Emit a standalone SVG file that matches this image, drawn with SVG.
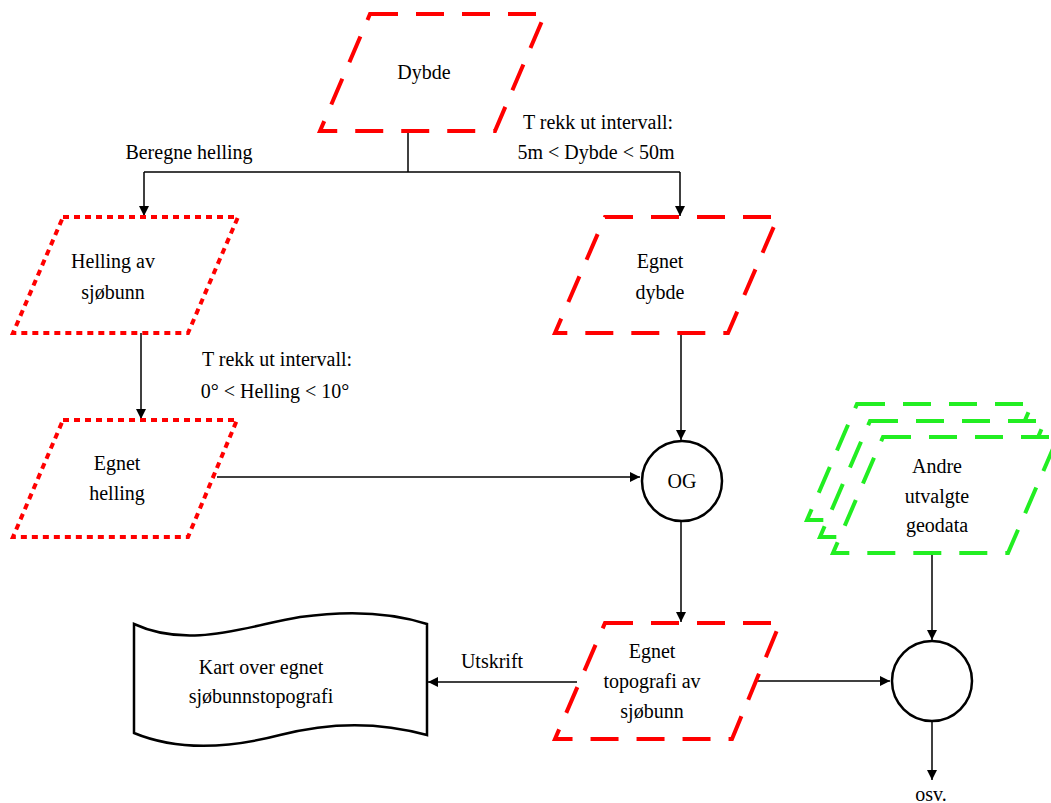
<svg xmlns="http://www.w3.org/2000/svg" width="1051" height="803" viewBox="0 0 1051 803">
<style>
text{font-family:"Liberation Serif","Times New Roman",serif;font-size:20px;fill:#000;text-anchor:middle}
.dash{fill:#fff;stroke:#ff0000;stroke-width:4;stroke-dasharray:28 18}
.dot{fill:#fff;stroke:#ff0000;stroke-width:4;stroke-dasharray:6 5}
.green{fill:#fff;stroke:#22ee22;stroke-width:4;stroke-dasharray:28 18}
.circ{fill:#fff;stroke:#000;stroke-width:2.5}
.doc{fill:#fff;stroke:#000;stroke-width:2.5}
.conn{fill:none;stroke:#000;stroke-width:1.5}
</style>
<defs>
<marker id="arr" viewBox="0 0 10 10" refX="10" refY="5" markerWidth="10" markerHeight="10" markerUnits="userSpaceOnUse" orient="auto">
<path d="M0,0 L10,5 L0,10 z" fill="#000"/>
</marker>
</defs>
<rect width="1051" height="803" fill="#fff"/>
<g id="connectors">
<polyline class="conn" points="408,131 408,172"/>
<polyline class="conn" points="144,172 680,172"/>
<polyline class="conn" points="144,172 144,216" marker-end="url(#arr)"/>
<polyline class="conn" points="680,172 680,216" marker-end="url(#arr)"/>
<polyline class="conn" points="141,333 141,419" marker-end="url(#arr)"/>
<polyline class="conn" points="681,333 681,440" marker-end="url(#arr)"/>
<polyline class="conn" points="217,477 640,477" marker-end="url(#arr)"/>
<polyline class="conn" points="681,522 681,622" marker-end="url(#arr)"/>
<polyline class="conn" points="577,682 428,682" marker-end="url(#arr)"/>
<polyline class="conn" points="757,681 890,681" marker-end="url(#arr)"/>
<polyline class="conn" points="932,553 932,640" marker-end="url(#arr)"/>
<polyline class="conn" points="932,722 932,780" marker-end="url(#arr)"/>
<text x="189" y="159">Beregne helling</text>
<text x="598" y="129">T rekk ut intervall:</text>
<text x="596" y="159">5m &lt; Dybde &lt; 50m</text>
<text x="277" y="366">T rekk ut intervall:</text>
<text x="275" y="398">0° &lt; Helling &lt; 10°</text>
<text x="492" y="668">Utskrift</text>
<text x="931" y="801">osv.</text>
</g>
<g id="dybde">
<polygon class="dash" points="370,14 545,14 495,131 320,131"/>
<text x="424" y="79">Dybde</text>
</g>
<g id="helling">
<polygon class="dot" points="63,217 238,217 188,333 13,333"/>
<text x="113" y="268">Helling av</text>
<text x="113" y="299">sjøbunn</text>
</g>
<g id="egnet-dybde">
<polygon class="dash" points="605,217 778,217 728,333 555,333"/>
<text x="660" y="268">Egnet</text>
<text x="660" y="299">dybde</text>
</g>
<g id="egnet-helling">
<polygon class="dot" points="63,420 237,420 188,537 13,537"/>
<text x="117" y="470">Egnet</text>
<text x="117" y="500">helling</text>
</g>
<g id="og">
<circle class="circ" cx="682" cy="481" r="40"/>
<text x="682" y="488">OG</text>
</g>
<g id="andre">
<polygon class="green" points="857,404 1032,404 982,520 807,520"/>
<polygon class="green" points="870,421 1045,421 995,537 820,537"/>
<polygon class="green" points="883,437 1058,437 1008,553 833,553"/>
<text x="937" y="473">Andre</text>
<text x="937" y="503">utvalgte</text>
<text x="937" y="532">geodata</text>
</g>
<g id="egnet-topografi">
<polygon class="dash" points="605,623 780,623 732,739 555,739"/>
<text x="652" y="658">Egnet</text>
<text x="652" y="688">topografi av</text>
<text x="652" y="718">sjøbunn</text>
</g>
<g id="kart">
<path class="doc" d="M134,624 C190,650 250,625 300,617 C350,610 390,612 427,624 L427,735 C380,722 330,722 280,735 C230,748 180,752 134,733 Z"/>
<text x="261" y="674">Kart over egnet</text>
<text x="261" y="703">sjøbunnstopografi</text>
</g>
<g id="merge">
<circle class="circ" cx="932" cy="681" r="40"/>
</g>
</svg>
